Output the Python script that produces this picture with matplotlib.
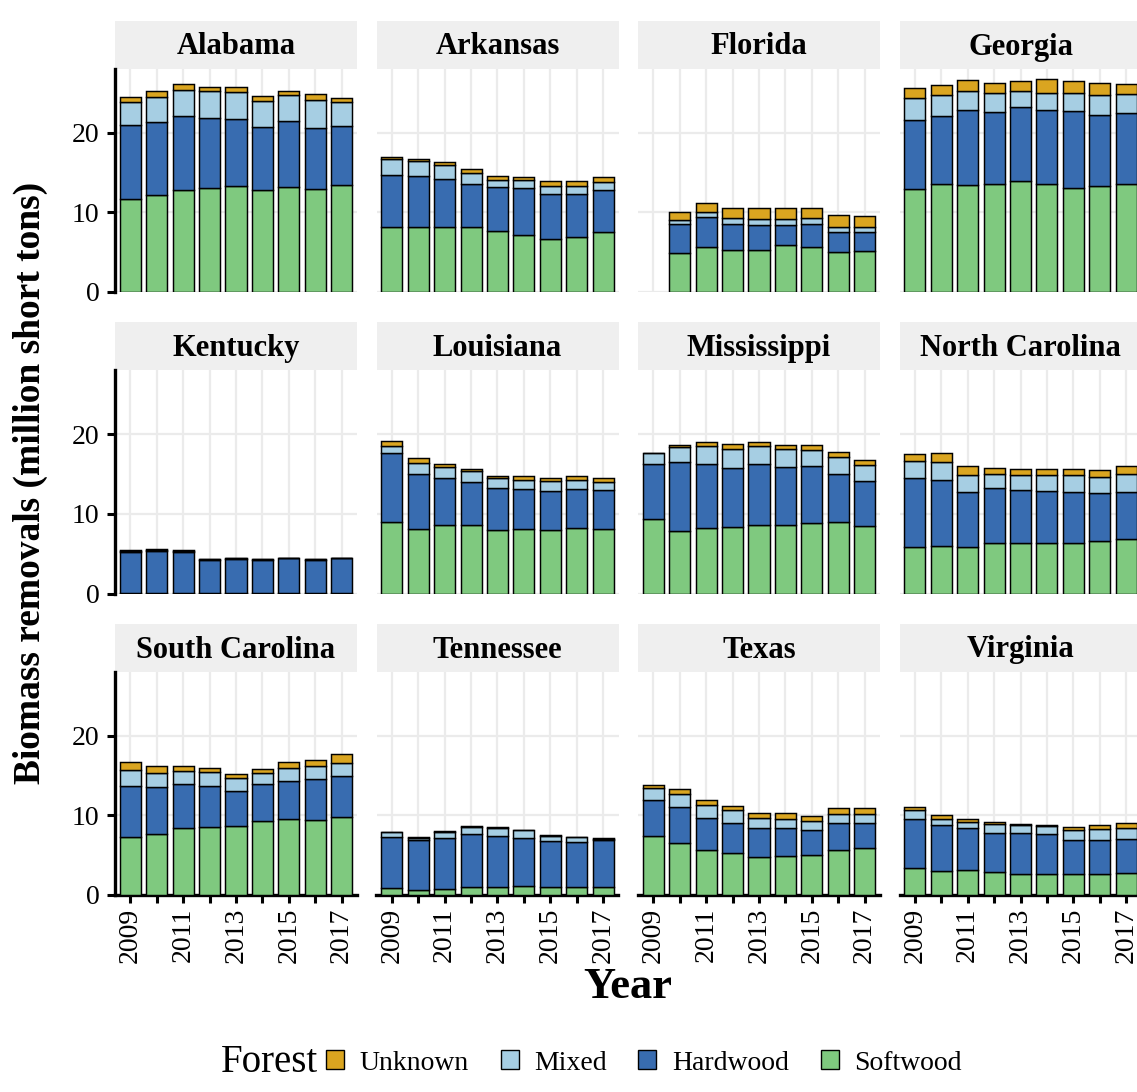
import numpy as np
import matplotlib.pyplot as plt
from matplotlib.patches import Rectangle, Patch

years = np.arange(2009, 2018)
states = ["Alabama", "Arkansas", "Florida", "Georgia",
          "Kentucky", "Louisiana", "Mississippi", "North Carolina",
          "South Carolina", "Tennessee", "Texas", "Virginia"]

nan = np.nan

# million short tons, 2009-2017
softwood = {
    "Alabama": [11.7, 12.2, 12.8, 13.0, 13.3, 12.8, 13.2, 12.9, 13.4],
    "Arkansas": [8.1, 8.1, 8.2, 8.1, 7.7, 7.2, 6.7, 6.9, 7.55],
    "Florida": [nan, 4.85, 5.7, 5.3, 5.3, 5.9, 5.6, 5.0, 5.2],
    "Georgia": [12.9, 13.5, 13.4, 13.6, 13.9, 13.6, 13.0, 13.3, 13.6],
    "Kentucky": [0.05, 0.05, 0.05, 0.05, 0.05, 0.05, 0.05, 0.05, 0.05],
    "Louisiana": [9.0, 8.15, 8.65, 8.57, 8.0, 8.15, 8.0, 8.2, 8.15],
    "Mississippi": [9.3, 7.85, 8.2, 8.4, 8.65, 8.65, 8.9, 9.0, 8.5],
    "North Carolina": [5.8, 5.95, 5.8, 6.4, 6.3, 6.3, 6.3, 6.55, 6.8],
    "South Carolina": [7.3, 7.7, 8.4, 8.6, 8.7, 9.35, 9.5, 9.45, 9.8],
    "Tennessee": [0.9, 0.65, 0.8, 1.0, 1.0, 1.1, 1.0, 1.0, 1.0],
    "Texas": [7.35, 6.5, 5.7, 5.25, 4.75, 4.9, 5.0, 5.7, 5.85],
    "Virginia": [3.4, 3.0, 3.1, 2.9, 2.6, 2.6, 2.6, 2.65, 2.75],
}
hardwood = {
    "Alabama": [9.3, 9.1, 9.3, 8.9, 8.4, 7.9, 8.3, 7.7, 7.4],
    "Arkansas": [6.6, 6.5, 6.0, 5.4, 5.5, 5.9, 5.6, 5.4, 5.25],
    "Florida": [nan, 3.65, 3.7, 3.3, 3.05, 2.5, 2.9, 2.5, 2.35],
    "Georgia": [8.7, 8.65, 9.5, 9.0, 9.3, 9.3, 9.7, 8.9, 8.9],
    "Kentucky": [5.1, 5.25, 5.1, 4.2, 4.3, 4.2, 4.35, 4.2, 4.35],
    "Louisiana": [8.6, 6.85, 5.8, 5.4, 5.3, 4.95, 4.9, 4.9, 4.8],
    "Mississippi": [6.9, 8.65, 8.1, 7.3, 7.55, 7.25, 7.05, 6.05, 5.6],
    "North Carolina": [8.75, 8.35, 6.95, 6.9, 6.75, 6.6, 6.4, 6.05, 5.95],
    "South Carolina": [6.4, 5.8, 5.5, 5.1, 4.35, 4.6, 4.8, 5.15, 5.15],
    "Tennessee": [6.35, 6.2, 6.3, 6.65, 6.45, 6.1, 5.75, 5.65, 5.85],
    "Texas": [4.6, 4.55, 3.95, 3.75, 3.6, 3.45, 3.2, 3.35, 3.15],
    "Virginia": [6.2, 5.75, 5.3, 4.85, 5.15, 5.0, 4.25, 4.25, 4.25],
}
mixed = {
    "Alabama": [2.8, 3.2, 3.3, 3.3, 3.4, 3.3, 3.2, 3.5, 3.0],
    "Arkansas": [2.0, 1.8, 1.7, 1.4, 0.9, 1.0, 1.0, 1.0, 1.0],
    "Florida": [nan, 0.5, 0.6, 0.7, 0.85, 0.8, 0.8, 0.6, 0.65],
    "Georgia": [2.8, 2.55, 2.4, 2.4, 2.1, 2.1, 2.3, 2.5, 2.35],
    "Kentucky": [0.15, 0.15, 0.15, 0.05, 0.05, 0.05, 0.05, 0.05, 0.05],
    "Louisiana": [0.9, 1.4, 1.45, 1.35, 1.15, 1.2, 1.2, 1.2, 1.05],
    "Mississippi": [1.5, 1.9, 2.2, 2.45, 2.3, 2.25, 2.05, 2.1, 2.0],
    "North Carolina": [2.05, 2.15, 2.1, 1.75, 1.8, 1.95, 2.15, 2.05, 2.25],
    "South Carolina": [2.0, 1.8, 1.65, 1.75, 1.6, 1.35, 1.7, 1.6, 1.6],
    "Tennessee": [0.6, 0.35, 0.85, 0.95, 1.0, 0.9, 0.7, 0.6, 0.2],
    "Texas": [1.5, 1.65, 1.65, 1.7, 1.35, 1.25, 1.05, 1.1, 1.15],
    "Virginia": [1.1, 0.85, 0.75, 1.15, 1.0, 1.05, 1.25, 1.35, 1.4],
}
unknown = {
    "Alabama": [0.7, 0.7, 0.7, 0.6, 0.6, 0.6, 0.5, 0.7, 0.6],
    "Arkansas": [0.25, 0.3, 0.4, 0.5, 0.5, 0.4, 0.6, 0.6, 0.7],
    "Florida": [nan, 1.1, 1.2, 1.2, 1.4, 1.4, 1.3, 1.6, 1.4],
    "Georgia": [1.2, 1.3, 1.3, 1.3, 1.2, 1.7, 1.5, 1.5, 1.25],
    "Kentucky": [0.1, 0.1, 0.1, 0.0, 0.0, 0.0, 0.0, 0.0, 0.0],
    "Louisiana": [0.7, 0.6, 0.4, 0.3, 0.35, 0.4, 0.45, 0.4, 0.45],
    "Mississippi": [0.0, 0.25, 0.5, 0.65, 0.5, 0.55, 0.6, 0.65, 0.6],
    "North Carolina": [0.9, 1.2, 1.1, 0.75, 0.75, 0.75, 0.75, 0.8, 1.0],
    "South Carolina": [0.95, 0.9, 0.65, 0.55, 0.55, 0.5, 0.65, 0.8, 1.15],
    "Tennessee": [0.05, 0.05, 0.05, 0.05, 0.05, 0.05, 0.05, 0.05, 0.1],
    "Texas": [0.35, 0.55, 0.6, 0.5, 0.65, 0.75, 0.7, 0.75, 0.75],
    "Virginia": [0.3, 0.4, 0.35, 0.25, 0.15, 0.2, 0.5, 0.5, 0.6],
}

# stacked bottom to top
layers = [("Softwood", softwood, "#7FC97F"),
          ("Hardwood", hardwood, "#386CB0"),
          ("Mixed", mixed, "#A6CEE3"),
          ("Unknown", unknown, "#DAA520")]

plt.rcParams["font.family"] = ["Liberation Serif", "DejaVu Serif"]

W, H = 1137, 1092
fig = plt.figure(figsize=(W / 100, H / 100), dpi=100)

left0, col_step, pw = 115, 261.5, 242
top0, row_step, ph = 69, 301.5, 223
strip_h = 48

for i, state in enumerate(states):
    r, c = divmod(i, 4)
    x0 = left0 + c * col_step
    ytop = top0 + r * row_step
    ax = fig.add_axes([x0 / W, 1 - (ytop + ph) / H, pw / W, ph / H])

    bottom = np.zeros(len(years))
    for name, data, color in layers:
        vals = np.array(data[state], dtype=float)
        ok = ~np.isnan(vals)
        ax.bar(years[ok], vals[ok], width=0.8, bottom=bottom[ok],
               color=color, edgecolor="black", linewidth=1.05, zorder=3)
        bottom = bottom + np.nan_to_num(vals)

    ax.set_xlim(2008.42, 2017.58)
    ax.set_ylim(0, 28)
    ax.set_xticks(years)
    ax.set_xticklabels([str(y) if y % 2 == 1 else "" for y in years],
                       rotation=90, fontsize=20)
    ax.set_yticks([0, 10, 20])
    ax.set_yticklabels(["0", "10", "20"], fontsize=20)
    ax.grid(True, color="#EBEBEB", linewidth=1.6, zorder=0)
    ax.set_axisbelow(True)

    for side in ["top", "right", "left", "bottom"]:
        ax.spines[side].set_visible(False)
    ax.tick_params(axis="both", length=6, width=2.2, color="black", pad=3)

    if c == 0:
        ax.spines["left"].set_visible(True)
        ax.spines["left"].set_linewidth(2.4)
        ax.tick_params(axis="y", pad=5)
    else:
        ax.tick_params(axis="y", length=0, labelleft=False)
    if r == 2:
        ax.spines["bottom"].set_visible(True)
        ax.spines["bottom"].set_linewidth(2.4)
    else:
        ax.tick_params(axis="x", length=0, labelbottom=False)

    # facet strip
    ax.add_patch(Rectangle((0, 1), 1, strip_h / ph, transform=ax.transAxes,
                           facecolor="#EFEFEF", edgecolor="none", clip_on=False))
    ax.text(0.5, 1 + (strip_h / 2 - 2) / ph, state, transform=ax.transAxes,
            ha="center", va="center", fontsize=22, fontweight="bold")

fig.text(30 / W, 1 - 483 / H, "Biomass removals (million short tons)",
         rotation=90, ha="center", va="center", fontsize=27, fontweight="bold")
fig.text(628 / W, 1 - 987 / H, "Year", ha="center", va="center",
         fontsize=32, fontweight="bold")

fig.text(318 / W, 1 - 1062 / H, "Forest", ha="right", va="center", fontsize=28)
handles = [Patch(facecolor=color, edgecolor="black", linewidth=1.0)
           for name, data, color in layers[::-1]]
labels = [name for name, data, color in layers[::-1]]
fig.legend(handles, labels, loc="center left",
           bbox_to_anchor=(326 / W, 1 - 1063 / H), ncol=4, frameon=False,
           fontsize=20, handlelength=0.65, handleheight=0.65,
           handletextpad=0.55, columnspacing=1.15, borderpad=0,
           borderaxespad=0)

fig.savefig("out.png", dpi=100)
